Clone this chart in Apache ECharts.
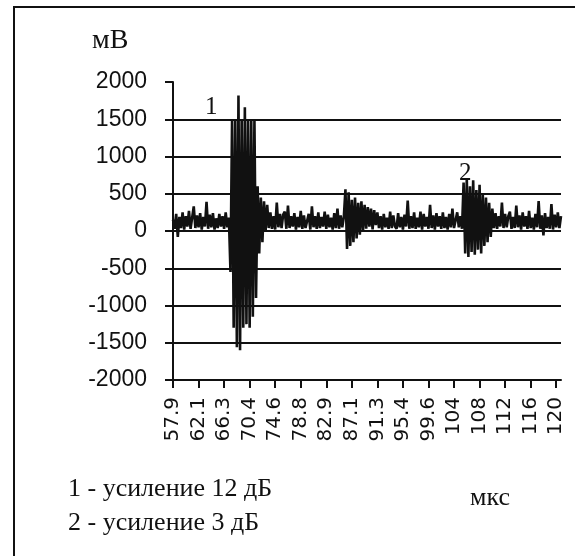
<!DOCTYPE html>
<html>
<head>
<meta charset="utf-8">
<script src="https://cdn.jsdelivr.net/npm/echarts@6/dist/echarts.min.js"></script>
<style>
html,body{margin:0;padding:0;background:#fff;}
#chart{width:575px;height:556px;}
</style>
</head>
<body>
<div id="chart"></div>
<script>
// tick labels of the time axis (мкс)
var tickLabels = ['57.9','62.1','66.3','70.4','74.6','78.8','82.9','87.1','91.3','95.4','99.6','104','108','112','116','120'];
var samplesPerTick = 16;

// signal, mV
var baseline1 = [150,30,230,-80,190,40,250,20,200,60,
                 270,30,180,330,40,210,50,240,20,190,
                 60,390,30,220,50,240,20,170,40,230,
                 60,200,30,250,50,180];
var burst1 = [-550,1500,-1300,1500,-1560,1820,-1600,1500,-1300,1660,
              -1250,1500,-1300,1500,-1150,1500,-900,600,
              -300,450,-150,400,0,350];
var baseline2 = [40,250,30,200,20,380,50,230,40,220,
                 260,30,340,40,200,60,240,20,190,50,
                 270,30,210,40,60,230,20,330,50,200,
                 30,250,40,190,60,260,30,220,50,180,
                 20,240,40,300,30,210,50,190];
var burst2 = [560,-240,520,-200,420,-150,450,-100,380,-50,
              400,0,350,30,320,60,300,20,280,80,250];
var baseline3 = [40,200,20,230,50,180,30,260,40,210,
                 60,30,240,50,190,20,220,60,410,30,
                 200,40,250,30,180,50,260,20,230,60,
                 190,30,350,40,210,20,240,60,200,30,
                 250,40,190,20,230,50,300,40,30,250,
                 50,200,30];
var burst3 = [650,-300,700,-350,600,-280,680,-320,550,-250,
              620,-300,500,-200,450,-150,380,-80,300];
var baseline4 = [40,240,30,200,60,380,40,230,50,200,
                 260,30,190,40,340,50,210,20,250,60,
                 200,30,270,40,180,20,230,50,400,30,
                 210,-60,240,40,190,30,360,20,220,50,
                 250,40,200];

var signal = [].concat(baseline1, burst1, baseline2, burst2, baseline3, burst3, baseline4);
var categories = signal.map(function (v, i) { return String(i); });

var yMin = -2000, yMax = 2000, yStep = 500;
var legendLines = ['1 - усиление 12 дБ', '2 - усиление 3 дБ'];
var burstMarks = [{ name: '1', idx: 24, val: 1660 }, { name: '2', idx: 183, val: 770 }];

var chart = echarts.init(document.getElementById('chart'), null, { renderer: 'canvas' });
var serif = '"Liberation Serif", "DejaVu Serif", serif';
var sans = '"Liberation Sans", Arial, sans-serif';

chart.setOption({
  animation: false,
  backgroundColor: '#fff',
  grid: { left: 173, right: 14, top: 82, bottom: 176, containLabel: false },
  xAxis: {
    type: 'category',
    data: categories,
    boundaryGap: false,
    axisLine: { onZero: false, lineStyle: { color: '#111', width: 2 } },
    axisTick: { show: true, interval: samplesPerTick - 1, length: 8, lineStyle: { color: '#111', width: 2 } },
    axisLabel: {
      interval: samplesPerTick - 1,
      rotate: 90,
      margin: 17,
      color: '#111',
      fontFamily: '"DejaVu Sans", sans-serif',
      fontSize: 20,
      formatter: function (v, i) {
        var k = Math.round(i / samplesPerTick);
        return tickLabels[k] !== undefined ? tickLabels[k] : '';
      }
    },
    splitLine: { show: false }
  },
  yAxis: {
    type: 'value',
    min: yMin, max: yMax, interval: yStep,
    axisLine: { show: true, lineStyle: { color: '#111', width: 2 } },
    axisTick: { show: true, length: 8, lineStyle: { color: '#111', width: 2 } },
    axisLabel: { margin: 26, color: '#111', fontFamily: sans, fontSize: 23,
                 formatter: function (v) { return String(v); } },
    splitLine: { show: true, showMaxLine: false, lineStyle: { color: '#111', width: 2 } }
  },
  series: [{
    type: 'line',
    data: signal,
    showSymbol: false,
    symbol: 'none',
    lineStyle: { color: '#111', width: 2.6 },
    markPoint: {
      symbol: 'rect',
      symbolSize: 1,
      itemStyle: { color: 'rgba(0,0,0,0)' },
      label: { show: true, position: 'inside', color: '#111', fontFamily: serif, fontSize: 25,
               formatter: function (p) { return p.name; } },
      data: burstMarks.map(function (m) { return { name: m.name, coord: [m.idx, m.val] }; })
    }
  }],
  graphic: [
    { type: 'rect', shape: { x: 14, y: 7, width: 620, height: 620 },
      style: { fill: 'none', stroke: '#111', lineWidth: 2 }, silent: true },
    { type: 'text', left: 92, top: 27,
      style: { text: 'мВ', fill: '#111', font: '28px ' + serif } },
    { type: 'text', left: 470, top: 485,
      style: { text: 'мкс', fill: '#111', font: '26px ' + serif } },
    { type: 'text', left: 68, top: 476,
      style: { text: legendLines[0], fill: '#111', font: '26px ' + serif } },
    { type: 'text', left: 68, top: 510,
      style: { text: legendLines[1], fill: '#111', font: '26px ' + serif } }
  ]
});
</script>
</body>
</html>
